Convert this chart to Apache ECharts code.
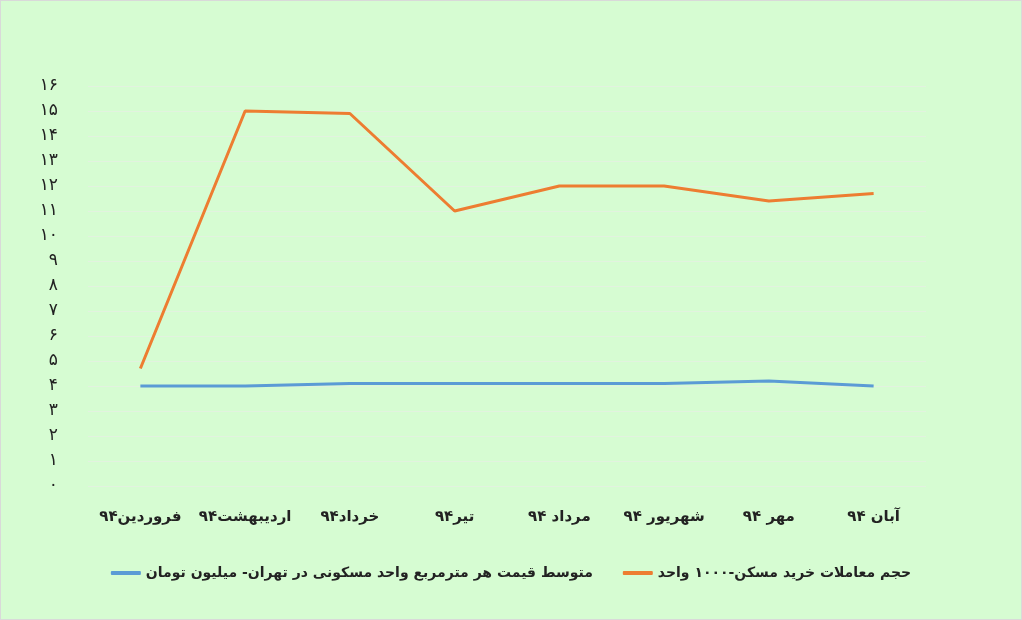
<!DOCTYPE html>
<html><head><meta charset="utf-8">
<script src="https://cdn.jsdelivr.net/npm/echarts@6/dist/echarts.min.js"></script>
<style>html,body{margin:0;padding:0;background:#fff}#c{width:1022px;height:620px;box-sizing:border-box;border:1px solid #d9d9d9}</style>
</head><body><div id="c"></div>
<script>
const categories = ['فروردین۹۴','اردیبهشت۹۴','خرداد۹۴','تیر۹۴','مرداد ۹۴','شهریور ۹۴','مهر ۹۴','آبان ۹۴'];
const priceSeries = [4.0, 4.0, 4.1, 4.1, 4.1, 4.1, 4.2, 4.0];
const volumeSeries = [4.7, 15.0, 14.9, 11.0, 12.0, 12.0, 11.4, 11.7];
const seriesNames = ['متوسط قیمت هر مترمربع واحد مسکونی در تهران- میلیون تومان', 'حجم معاملات خرید مسکن-۱۰۰۰ واحد'];
const fa = s => String(s).replace(/\d/g, d => '۰۱۲۳۴۵۶۷۸۹'[d]);
const chart = echarts.init(document.getElementById('c'));
const font = 'DejaVu Sans';
chart.setOption({
  backgroundColor: '#d6fcd2',
  textStyle: {fontFamily: font},
  grid: {left: 87, right: 95, top: 85, bottom: 133},
  legend: {bottom: 34, left: 'center', itemWidth: 30, itemHeight: 4, itemGap: 30,
    textStyle: {fontFamily: font, fontSize: 14, fontWeight: 'bold', color: '#222'},
    data: seriesNames.map(n => ({name: n, icon: 'roundRect'}))},
  xAxis: {type: 'category', data: categories, boundaryGap: true,
    axisLine: {show: false}, axisTick: {show: false},
    axisLabel: {interval: 0, fontFamily: font, fontSize: 15, fontWeight: 'bold', color: '#222', margin: 24}},
  yAxis: {type: 'value', min: 0, max: 16, interval: 1,
    axisLabel: {formatter: v => fa(v), fontFamily: font, fontSize: 17, color: '#222', margin: 30},
    splitLine: {lineStyle: {color: '#e2f2df'}}},
  series: [
    {name: seriesNames[0], type: 'line', data: priceSeries, symbol: 'none', lineStyle: {color: '#5B9BD5', width: 3}, itemStyle: {color: '#5B9BD5'}},
    {name: seriesNames[1], type: 'line', data: volumeSeries, symbol: 'none', lineStyle: {color: '#ED7D31', width: 3}, itemStyle: {color: '#ED7D31'}}
  ]
});
</script></body></html>
